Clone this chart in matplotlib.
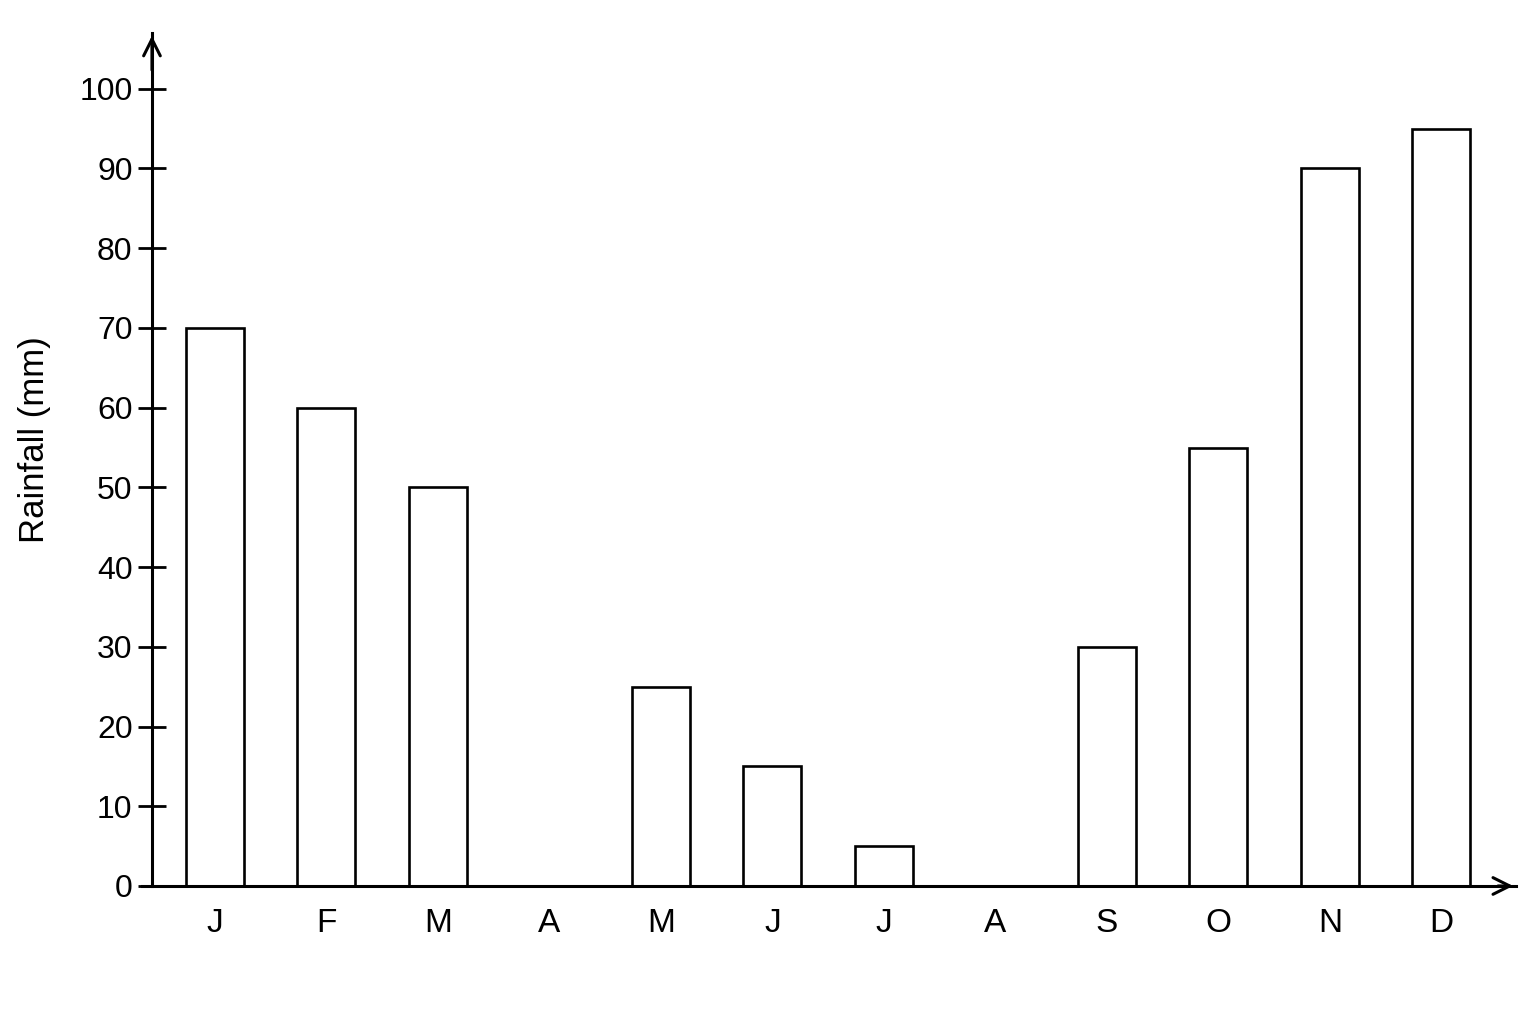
import matplotlib
matplotlib.use("Agg")
import matplotlib.pyplot as plt
import numpy as np

plt.rcParams['font.family'] = ['Liberation Sans', 'DejaVu Sans']

# data
months = ['J', 'F', 'M', 'A', 'M', 'J', 'J', 'A', 'S', 'O', 'N', 'D']
rainfall = [70, 60, 50, 0, 25, 15, 5, 0, 30, 55, 90, 95]
y_ticks = [0, 10, 20, 30, 40, 50, 60, 70, 80, 90, 100]

fig = plt.figure(figsize=(15.36, 10.24), dpi=100)
ax = fig.add_axes([0.0924, 0.1348, 0.8945, 0.833])

x = np.arange(len(months))
ax.bar(x, rainfall, width=0.52, facecolor='white', edgecolor='black', linewidth=1.9, zorder=2)

ax.set_xlim(-0.655, 11.668)
ax.set_ylim(0, 107)

# axes: y axis sits a bit right of the x axis start
for s in ['top', 'right']:
    ax.spines[s].set_visible(False)
ax.spines['left'].set_position(('data', -0.565))
ax.spines['left'].set_linewidth(2.2)
ax.spines['bottom'].set_linewidth(2.2)

# arrow heads
arrow = dict(arrowstyle='->', lw=2.2, color='black', mutation_scale=30)
ax.annotate('', xy=(1.0, 0), xytext=(0.985, 0), xycoords='axes fraction',
            arrowprops=arrow, annotation_clip=False)
ax.annotate('', xy=(-0.565, 107), xytext=(-0.565, 102), xycoords='data',
            arrowprops=arrow, annotation_clip=False)

ax.set_yticks(y_ticks)
ax.tick_params(axis='y', direction='inout', length=20, width=2, labelsize=23, pad=4)
ax.set_xticks(x)
ax.set_xticklabels(months)
ax.tick_params(axis='x', length=0, labelsize=24, pad=16)

ax.set_ylabel('Rainfall (mm)', fontsize=25)
ax.yaxis.set_label_coords(-0.066, 0.523)

fig.savefig('out.png', dpi=100, facecolor='white')
